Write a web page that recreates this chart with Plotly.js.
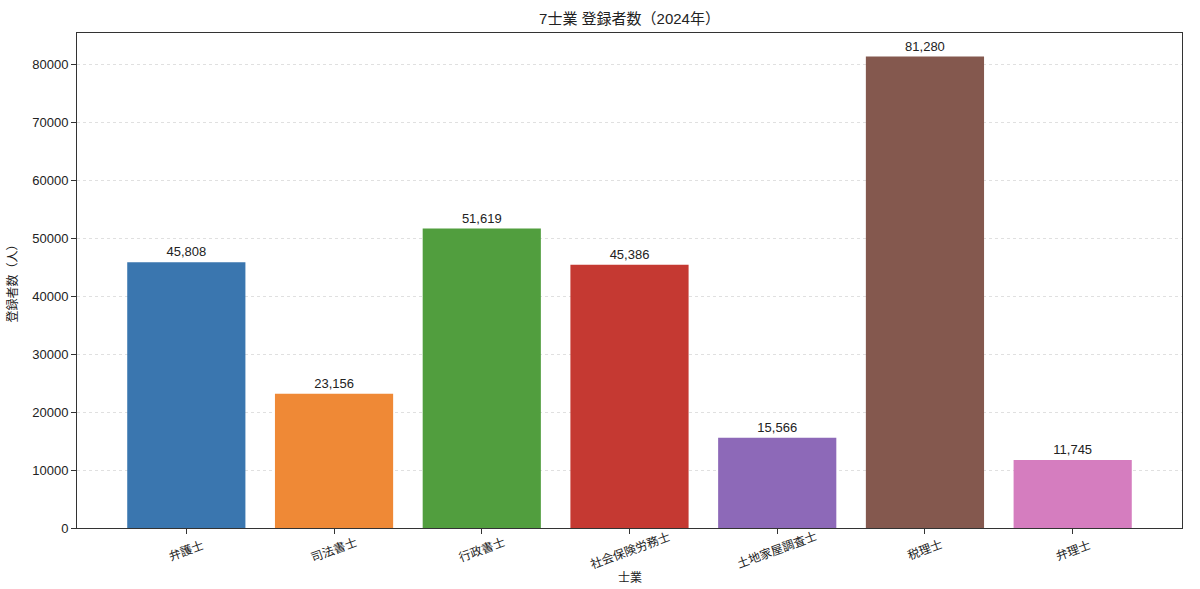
<!DOCTYPE html>
<html>
<head>
<meta charset="utf-8">
<script src="https://cdn.plot.ly/plotly-3.0.1.min.js"></script>
<style>
  body { margin: 0; background: #fff; }
  #myDiv { width: 1200px; height: 589px; }
</style>
</head>
<body>
<div id="myDiv"></div>
<script>
// 7士業の登録者数 (2024)
var categories = ['弁護士', '司法書士', '行政書士', '社会保険労務士', '土地家屋調査士', '税理士', '弁理士'];
var counts = [45808, 23156, 51619, 45386, 15566, 81280, 11745];
var barColors = ['#3a76af', '#ef8936', '#519e3e', '#c53932', '#8d69b8', '#84584e', '#d57dbf'];
var yTicks = [0, 10000, 20000, 30000, 40000, 50000, 60000, 70000, 80000];

var FONT = '"Liberation Sans", "Noto Sans CJK JP", sans-serif';

var xpos = categories.map(function (c, i) { return i; });

var data = [{
  type: 'bar',
  x: xpos,
  y: counts,
  width: 0.8,
  marker: { color: barColors, line: { width: 0 } },
  text: counts.map(function (v) { return v.toLocaleString('en-US'); }),
  textposition: 'outside',
  textfont: { family: FONT, size: 13, color: '#222' },
  cliponaxis: false,
  hoverinfo: 'skip'
}];

// rotated category labels, centred under each tick like matplotlib
var annots = categories.map(function (c, i) {
  return {
    x: i, y: 0, xref: 'x', yref: 'y',
    text: c, showarrow: false, textangle: -20,
    xanchor: 'center', yanchor: 'middle',
    yshift: -22,
    font: { family: FONT, size: 12, color: '#222' }
  };
});

// x axis title, placed below the rotated labels
annots.push({
  x: 0.5, y: 578, xref: 'paper', yref: 'paper',
  text: '士業', showarrow: false,
  xanchor: 'center', yanchor: 'middle',
  font: { family: FONT, size: 12, color: '#222' }
});
annots[annots.length - 1].y = -(578 - 528) / (528 - 33);

var layout = {
  width: 1200,
  height: 589,
  paper_bgcolor: '#fff',
  plot_bgcolor: '#fff',
  margin: { l: 77, r: 18, t: 33, b: 61 },
  showlegend: false,
  font: { family: FONT, size: 12, color: '#222' },
  title: {
    text: '7士業 登録者数（2024年）',
    x: 0.5 + (77 - 18) / 2 / 1200, xanchor: 'center',
    y: 1 - 19 / 589, yanchor: 'middle',
    font: { family: FONT, size: 15, color: '#222' }
  },
  xaxis: {
    type: 'linear',
    range: [-0.74, 6.74],
    tickvals: xpos,
    showticklabels: false,
    automargin: false,
    ticks: 'outside', ticklen: 5, tickcolor: '#333', tickwidth: 1,
    showgrid: false, zeroline: false,
    showline: true, linecolor: '#333', linewidth: 1, mirror: true
  },
  yaxis: {
    range: [0, 85344],
    tickvals: yTicks,
    tickformat: 'd',
    automargin: false,
    ticks: 'outside', ticklen: 5, tickcolor: '#333', tickwidth: 1,
    tickfont: { family: FONT, size: 13, color: '#222' },
    showgrid: true, gridcolor: '#e0e0e0', griddash: '3px,3px', gridwidth: 1,
    zeroline: false,
    showline: true, linecolor: '#333', linewidth: 1, mirror: true,
    title: { text: '登録者数（人）', font: { family: FONT, size: 12, color: '#222' }, standoff: 12 }
  },
  annotations: annots
};

Plotly.newPlot('myDiv', data, layout, { displayModeBar: false, staticPlot: true });
</script>
</body>
</html>
